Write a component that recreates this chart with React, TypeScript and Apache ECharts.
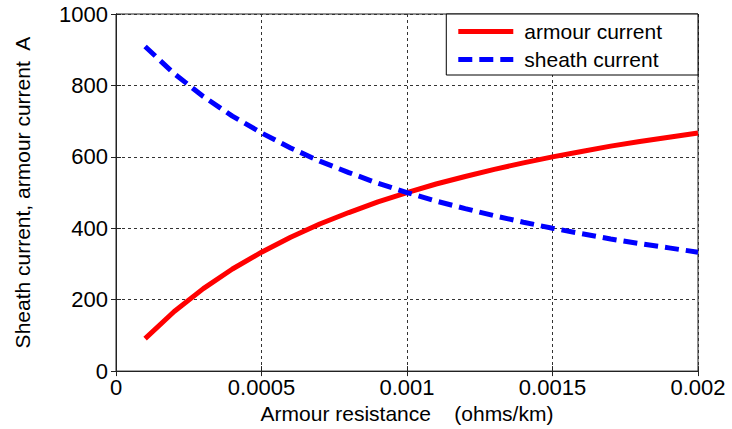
import React, { useEffect, useRef } from "react";
import * as echarts from "echarts";

const resistance = [
  0.0001, 0.0002, 0.0003, 0.0004, 0.0005, 0.0006, 0.0007, 0.0008, 0.0009, 0.001,
  0.0011, 0.0012, 0.0013, 0.0014, 0.0015, 0.0016, 0.0017, 0.0018, 0.0019, 0.002,
];
const armourCurrent = [
  91, 167, 231, 286, 333, 375, 412, 444, 474, 500,
  524, 545, 565, 583, 600, 615, 630, 643, 655, 667,
];
const sheathCurrent = [
  909, 833, 769, 714, 667, 625, 588, 556, 526, 500,
  476, 455, 435, 417, 400, 385, 370, 357, 345, 333,
];
const seriesNames = ["armour current", "sheath current"];
const xTickLabels = ["0", "0.0005", "0.001", "0.0015", "0.002"];
const yTickLabels = ["0", "200", "400", "600", "800", "1000"];

const FONT = "'Liberation Sans', Arial, Helvetica, sans-serif";

export default function App() {
  const ref = useRef<HTMLDivElement>(null);
  useEffect(() => {
    if (!ref.current) return;
    const chart = echarts.init(ref.current, null, { renderer: "svg" });
    const gridLine = { show: true, lineStyle: { color: "#333", width: 1, type: [3, 3] as number[] } };
    const tick = { show: true, inside: true, length: 5, lineStyle: { color: "#222" } };
    chart.setOption({
      animation: false,
      backgroundColor: "#fff",
      textStyle: { fontFamily: FONT, color: "#000" },
      grid: {
        left: 116,
        right: 34,
        top: 14,
        bottom: 50,
        show: true,
        borderColor: "#222",
        borderWidth: 1,
        backgroundColor: "#fff",
      },
      legend: {
        data: [
          { name: seriesNames[0], icon: "path://M0,0h55v5h-55z" },
          { name: seriesNames[1], icon: "path://M0,0h14v5h-14z M21,0h14v5h-14z M42,0h13v5h-13z" },
        ],
        orient: "vertical",
        right: 34,
        top: 14,
        padding: [7, 36, 5, 12],
        itemGap: 7,
        itemWidth: 55,
        itemHeight: 5,
        backgroundColor: "#fff",
        borderColor: "#000",
        borderWidth: 1,
        borderRadius: 0,
        textStyle: { fontFamily: FONT, fontSize: 21, color: "#000", padding: [0, 0, 0, 6] },
      },
      xAxis: [
        {
          type: "value",
          min: 0,
          max: 0.002,
          interval: 0.0005,
          name: "Armour resistance    (ohms/km)",
          nameLocation: "middle",
          nameGap: 19,
          nameTextStyle: { fontFamily: FONT, fontSize: 21, color: "#000" },
          axisLine: { show: true, lineStyle: { color: "#222" } },
          axisTick: tick,
          splitLine: gridLine,
          axisLabel: {
            fontFamily: FONT,
            fontSize: 22,
            color: "#000",
            margin: 5,
            formatter: (v: number) => xTickLabels[Math.round(v / 0.0005)] ?? "",
          },
        },
        {
          type: "value",
          position: "top",
          min: 0,
          max: 0.002,
          interval: 0.0005,
          axisLine: { show: true, lineStyle: { color: "#222" } },
          axisTick: tick,
          axisLabel: { show: false },
          splitLine: { show: false },
        },
      ],
      yAxis: [
        {
          type: "value",
          min: 0,
          max: 1000,
          interval: 200,
          name: "Sheath current, armour current  A",
          nameLocation: "middle",
          nameGap: 83,
          nameTextStyle: { fontFamily: FONT, fontSize: 21, color: "#000" },
          axisLine: { show: true, lineStyle: { color: "#222" } },
          axisTick: tick,
          splitLine: gridLine,
          axisLabel: {
            fontFamily: FONT,
            fontSize: 22,
            color: "#000",
            margin: 8,
            formatter: (v: number) => yTickLabels[Math.round(v / 200)] ?? "",
          },
        },
        {
          type: "value",
          position: "right",
          min: 0,
          max: 1000,
          interval: 200,
          axisLine: { show: true, lineStyle: { color: "#222" } },
          axisTick: tick,
          axisLabel: { show: false },
          splitLine: { show: false },
        },
      ],
      series: [
        {
          name: seriesNames[0],
          type: "line",
          xAxisIndex: 0,
          yAxisIndex: 0,
          showSymbol: false,
          symbol: "none",
          data: resistance.map((x, i) => [x, armourCurrent[i]]),
          lineStyle: { color: "#ff0000", width: 5, type: "solid" },
          itemStyle: { color: "#ff0000" },
        },
        {
          name: seriesNames[1],
          type: "line",
          xAxisIndex: 0,
          yAxisIndex: 0,
          showSymbol: false,
          symbol: "none",
          data: resistance.map((x, i) => [x, sheathCurrent[i]]),
          lineStyle: { color: "#0000ff", width: 5, type: [14, 7] },
          itemStyle: { color: "#0000ff" },
        },
      ],
    });
    return () => chart.dispose();
  }, []);
  return (
    <div
      ref={ref}
      style={{ position: "fixed", left: 0, top: 0, width: 732, height: 429, background: "#fff" }}
    />
  );
}
